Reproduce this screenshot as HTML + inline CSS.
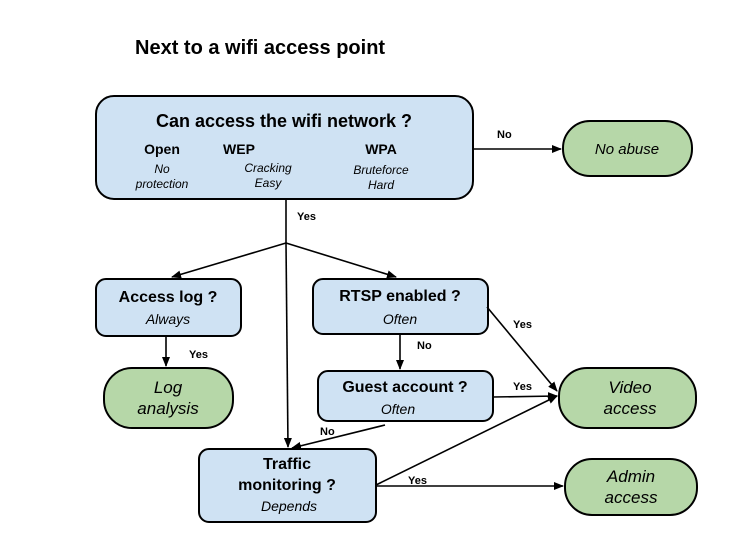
<!DOCTYPE html>
<html><head><style>
body{margin:0;background:#fff;}
svg text{font-family:"Liberation Sans",Arial,sans-serif;}
</style></head><body>
<svg width="749" height="547" viewBox="0 0 749 547" xmlns="http://www.w3.org/2000/svg">
<defs><marker id="a" markerWidth="10" markerHeight="8" refX="9" refY="4" orient="auto" markerUnits="userSpaceOnUse"><path d="M0,0 L10,4 L0,8 z" fill="#000"/></marker></defs>
<text x="135" y="54" font-size="20" font-weight="bold">Next to a wifi access point</text>
<g stroke="#000" stroke-width="2">
<rect x="96" y="96" width="377" height="103" rx="18" fill="#cfe2f3"/>
<rect x="563" y="121" width="129" height="55" rx="27" fill="#b6d7a8"/>
<rect x="96" y="279" width="145" height="57" rx="10" fill="#cfe2f3"/>
<rect x="104" y="368" width="129" height="60" rx="28" fill="#b6d7a8"/>
<rect x="313" y="279" width="175" height="55" rx="10" fill="#cfe2f3"/>
<rect x="318" y="371" width="175" height="50" rx="10" fill="#cfe2f3"/>
<rect x="199" y="449" width="177" height="73" rx="10" fill="#cfe2f3"/>
<rect x="559" y="368" width="137" height="60" rx="28" fill="#b6d7a8"/>
<rect x="565" y="459" width="132" height="56" rx="27" fill="#b6d7a8"/>
</g>
<g stroke="#000" stroke-width="1.6" fill="none">
<line x1="473" y1="149" x2="561" y2="149" marker-end="url(#a)"/>
<line x1="286" y1="199" x2="286" y2="243"/>
<line x1="286" y1="243" x2="172" y2="277" marker-end="url(#a)"/>
<line x1="286" y1="243" x2="396" y2="277" marker-end="url(#a)"/>
<line x1="286" y1="243" x2="288" y2="447" marker-end="url(#a)"/>
<line x1="166" y1="336" x2="166" y2="366" marker-end="url(#a)"/>
<line x1="400" y1="334" x2="400" y2="369" marker-end="url(#a)"/>
<line x1="487" y1="307" x2="557" y2="391" marker-end="url(#a)"/>
<line x1="493" y1="397" x2="557" y2="396" marker-end="url(#a)"/>
<line x1="385" y1="425" x2="292" y2="448" marker-end="url(#a)"/>
<line x1="376" y1="485" x2="557" y2="396" marker-end="url(#a)"/>
<line x1="376" y1="486" x2="563" y2="486" marker-end="url(#a)"/>
</g>
<g font-size="11" font-weight="bold">
<text x="497" y="138">No</text>
<text x="297" y="220">Yes</text>
<text x="189" y="358">Yes</text>
<text x="417" y="349">No</text>
<text x="513" y="328">Yes</text>
<text x="513" y="390">Yes</text>
<text x="320" y="435">No</text>
<text x="408" y="484">Yes</text>
</g>
<g text-anchor="middle">
<text x="284" y="127" font-size="18" font-weight="bold">Can access the wifi network ?</text>
<text x="162" y="154" font-size="14" font-weight="bold">Open</text>
<text x="239" y="154" font-size="14" font-weight="bold">WEP</text>
<text x="381" y="154" font-size="14" font-weight="bold">WPA</text>
<g font-size="12" font-style="italic">
<text x="162" y="173">No</text><text x="162" y="188">protection</text>
<text x="268" y="172">Cracking</text><text x="268" y="187">Easy</text>
<text x="381" y="174">Bruteforce</text><text x="381" y="189">Hard</text>
</g>
<text x="627" y="154" font-size="15" font-style="italic">No abuse</text>
<text x="168" y="302" font-size="16" font-weight="bold">Access log ?</text>
<text x="168" y="324" font-size="14" font-style="italic">Always</text>
<text x="168" y="393" font-size="17" font-style="italic">Log</text>
<text x="168" y="414" font-size="17" font-style="italic">analysis</text>
<text x="400" y="301" font-size="16" font-weight="bold">RTSP enabled ?</text>
<text x="400" y="324" font-size="14" font-style="italic">Often</text>
<text x="405" y="392" font-size="16" font-weight="bold">Guest account ?</text>
<text x="398" y="414" font-size="14" font-style="italic">Often</text>
<text x="287" y="469" font-size="16" font-weight="bold">Traffic</text>
<text x="287" y="490" font-size="16" font-weight="bold">monitoring ?</text>
<text x="289" y="511" font-size="14" font-style="italic">Depends</text>
<text x="630" y="393" font-size="17" font-style="italic">Video</text>
<text x="630" y="414" font-size="17" font-style="italic">access</text>
<text x="631" y="482" font-size="17" font-style="italic">Admin</text>
<text x="631" y="503" font-size="17" font-style="italic">access</text>
</g>
</svg>
</body></html>
